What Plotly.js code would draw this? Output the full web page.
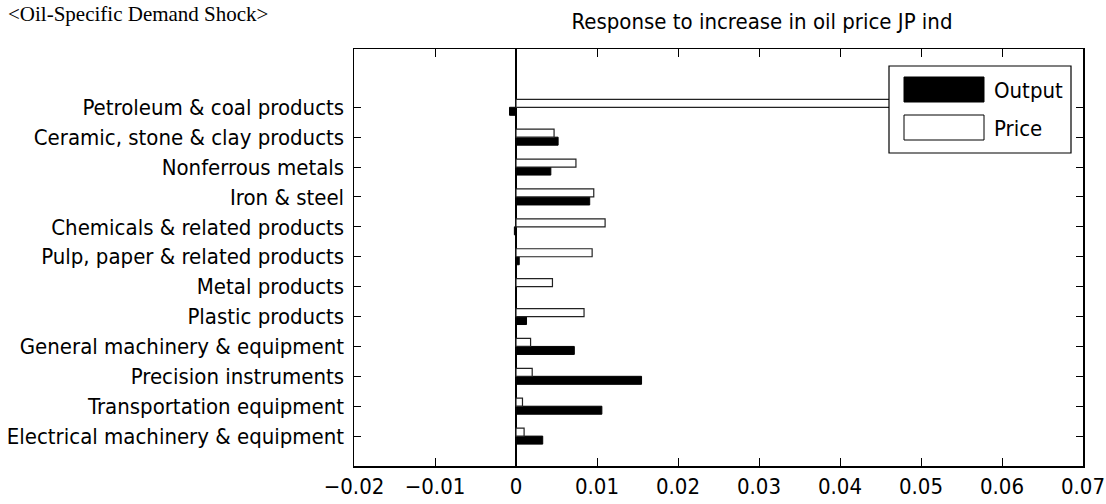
<!DOCTYPE html>
<html>
<head>
<meta charset="utf-8">
<script src="https://cdn.plot.ly/plotly-3.0.1.min.js"></script>
<style>html,body{margin:0;padding:0;background:#fff;}#chart{width:1106px;height:504px;}</style>
</head>
<body>
<div id="chart"></div>
<script>
// Categories, bottom to top
const industries = [
  "Electrical machinery & equipment",
  "Transportation equipment",
  "Precision instruments",
  "General machinery & equipment",
  "Plastic products",
  "Metal products",
  "Pulp, paper & related products",
  "Chemicals & related products",
  "Iron & steel",
  "Nonferrous metals",
  "Ceramic, stone & clay products",
  "Petroleum & coal products"
];
const outputResp = [0.0033, 0.0106, 0.0155, 0.0072, 0.0013, 0.0, 0.0004, -0.0002, 0.0091, 0.0043, 0.0052, -0.0008];
const priceResp  = [0.0010, 0.0008, 0.0020, 0.0018, 0.0084, 0.0045, 0.0094, 0.0110, 0.0096, 0.0074, 0.0047, 0.0560];
const xTickVals = [-0.02, -0.01, 0, 0.01, 0.02, 0.03, 0.04, 0.05, 0.06, 0.07];
const xTickText = ["\u22120.02", "\u22120.01", "0", "0.01", "0.02", "0.03", "0.04", "0.05", "0.06", "0.07"];

const W = 1106, H = 504;
const M = {l: 354, r: 23, t: 49, b: 38};
const pw = W - M.l - M.r, ph = H - M.t - M.b;
const px = x => (x - M.l) / pw;
const py = y => (H - M.b - y) / ph;

const FONT = "'DejaVu Sans Condensed', 'Liberation Sans', sans-serif";

const traces = [
  {type: 'bar', orientation: 'h', name: 'Output', y: industries, x: outputResp,
   marker: {color: '#000', line: {color: '#000', width: 1}}, showlegend: false, hoverinfo: 'x+y'},
  {type: 'bar', orientation: 'h', name: 'Price', y: industries, x: priceResp,
   marker: {color: '#fff', line: {color: '#222', width: 1.2}}, showlegend: false, hoverinfo: 'x+y'}
];

const layout = {
  width: W, height: H,
  margin: M,
  paper_bgcolor: '#fff', plot_bgcolor: '#fff',
  barmode: 'group', bargap: 0.465, bargroupgap: 0,
  font: {family: FONT, size: 22, color: '#000'},
  title: {text: 'Response to increase in oil price JP ind', xref: 'container', yref: 'container',
          x: 762 / W, xanchor: 'center', y: 1 - 21 / H, yanchor: 'middle',
          font: {family: FONT, size: 22, color: '#000'}},
  xaxis: {range: [-0.02, 0.07], tickvals: xTickVals, ticktext: xTickText,
          showgrid: false, zeroline: true, zerolinecolor: '#000', zerolinewidth: 1.2,
          showline: true, linecolor: '#000', linewidth: 1.5, mirror: 'ticks',
          ticks: 'inside', ticklen: 8, tickcolor: '#000', tickwidth: 1,
          tickfont: {family: FONT, size: 22, color: '#000'}, fixedrange: true},
  yaxis: {type: 'category', range: [-1, 12.95],
          showgrid: false, zeroline: false,
          showline: true, linecolor: '#000', linewidth: 1.5, mirror: 'ticks',
          ticks: 'inside', ticklen: 7, tickcolor: '#000', tickwidth: 1,
          tickfont: {family: FONT, size: 22, color: '#000'}, ticklabelstandoff: 4, fixedrange: true},
  shapes: [
    {type: 'rect', xref: 'paper', yref: 'paper', x0: px(889), x1: px(1071), y0: py(153), y1: py(66),
     fillcolor: '#fff', line: {color: '#000', width: 1.2}, layer: 'above'},
    {type: 'rect', xref: 'paper', yref: 'paper', x0: px(904), x1: px(984), y0: py(102), y1: py(77),
     fillcolor: '#000', line: {color: '#000', width: 1}, layer: 'above'},
    {type: 'rect', xref: 'paper', yref: 'paper', x0: px(904), x1: px(984), y0: py(140), y1: py(115),
     fillcolor: '#fff', line: {color: '#000', width: 1}, layer: 'above'}
  ],
  annotations: [
    {text: 'Output', xref: 'paper', yref: 'paper', x: px(992), y: py(90), xanchor: 'left', yanchor: 'middle',
     showarrow: false, font: {family: FONT, size: 22, color: '#000'}},
    {text: 'Price', xref: 'paper', yref: 'paper', x: px(992), y: py(128), xanchor: 'left', yanchor: 'middle',
     showarrow: false, font: {family: FONT, size: 22, color: '#000'}},
    {text: '&lt;Oil-Specific Demand Shock&gt;', xref: 'paper', yref: 'paper', x: px(6), y: py(0), xanchor: 'left', yanchor: 'top',
     showarrow: false, font: {family: "'Liberation Serif', 'Times New Roman', serif", size: 21, color: '#000'}}
  ]
};

Plotly.newPlot('chart', traces, layout, {displayModeBar: false, staticPlot: true});
</script>
</body>
</html>
